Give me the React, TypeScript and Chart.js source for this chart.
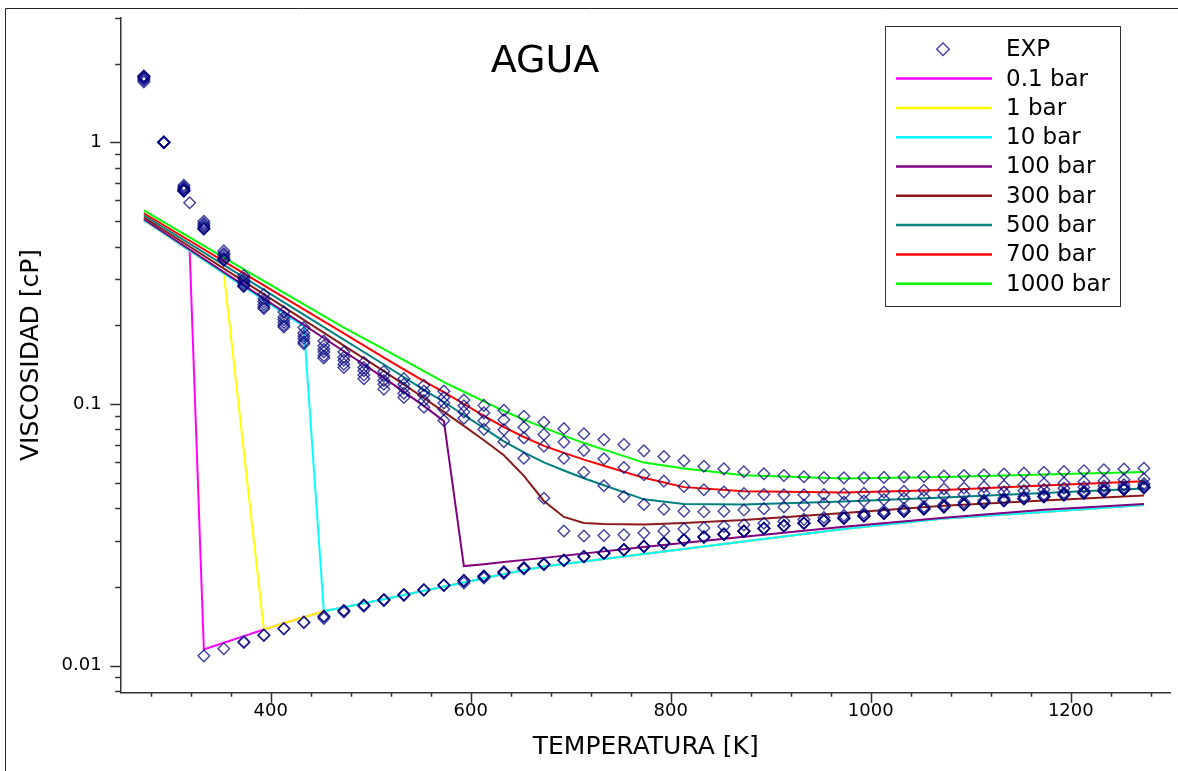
import { useEffect, useRef } from "react";
import { Chart, registerables } from "chart.js";

Chart.register(...registerables);

const FONT = "'DejaVu Sans', 'Noto Sans', sans-serif";

// Temperatures of the measured isobars [K]
const T_K = [
  273.15, 293.15, 313.15, 333.15, 353.15, 373.15, 393.15, 413.15, 433.15, 453.15,
  473.15, 493.15, 513.15, 533.15, 553.15, 573.15, 593.15, 613.15, 633.15, 653.15,
  673.15, 693.15, 713.15, 733.15, 753.15, 773.15, 793.15, 813.15, 833.15, 853.15,
  873.15, 893.15, 913.15, 933.15, 953.15, 973.15, 993.15, 1013.15, 1033.15, 1053.15,
  1073.15, 1093.15, 1113.15, 1133.15, 1153.15, 1173.15, 1193.15, 1213.15, 1233.15, 1253.15,
  1273.15,
];

// Measured viscosity [cP] along each isobar, one value per temperature above
const EXP_0_1_BAR = [
  1.792, 1.002, 0.653, 0.01089, 0.0116, 0.01234, 0.01309, 0.01386, 0.01465, 0.01543,
  0.01624, 0.01705, 0.01786, 0.01868, 0.0195, 0.02033, 0.02115, 0.02198, 0.0228, 0.02363,
  0.02446, 0.02528, 0.0261, 0.02693, 0.02775, 0.02856, 0.02938, 0.03019, 0.031, 0.0318,
  0.03261, 0.0334, 0.0342, 0.03499, 0.03578, 0.03656, 0.03734, 0.03812, 0.03889, 0.03966,
  0.04043, 0.04119, 0.04195, 0.0427, 0.04345, 0.04419, 0.04494, 0.04567, 0.04641, 0.04714,
  0.04786,
];
const EXP_1_BAR = [
  1.792, 1.002, 0.653, 0.467, 0.355, 0.01225, 0.01304, 0.01381, 0.0146, 0.01539,
  0.0162, 0.01701, 0.01783, 0.01865, 0.01947, 0.0203, 0.02112, 0.02195, 0.02278, 0.02361,
  0.02444, 0.02526, 0.02609, 0.02691, 0.02773, 0.02855, 0.02937, 0.03018, 0.03099, 0.03179,
  0.0326, 0.03339, 0.03419, 0.03498, 0.03577, 0.03655, 0.03733, 0.03811, 0.03888, 0.03965,
  0.04042, 0.04118, 0.04194, 0.04269, 0.04344, 0.04418, 0.04493, 0.04566, 0.0464, 0.04713,
  0.04785,
];
const EXP_10_BAR = [
  1.792, 1.002, 0.653, 0.467, 0.355, 0.282, 0.232, 0.197, 0.17, 0.01515,
  0.01602, 0.01687, 0.01771, 0.01855, 0.01939, 0.02023, 0.02107, 0.02191, 0.02274, 0.02357,
  0.02441, 0.02524, 0.02606, 0.02689, 0.02771, 0.02853, 0.02935, 0.03016, 0.03097, 0.03178,
  0.03259, 0.03339, 0.03419, 0.03498, 0.03577, 0.03655, 0.03733, 0.03811, 0.03889, 0.03966,
  0.04043, 0.04119, 0.04195, 0.0427, 0.04345, 0.04419, 0.04494, 0.04567, 0.04641, 0.04714,
  0.04786,
];
const EXP_100_BAR = [
  1.783, 1.002, 0.656, 0.47, 0.358, 0.285, 0.235, 0.2, 0.173, 0.153,
  0.138, 0.125, 0.114, 0.106, 0.0972, 0.0865, 0.0207, 0.0216, 0.0225, 0.0234,
  0.0243, 0.0252, 0.0261, 0.0269, 0.0277, 0.0286, 0.0294, 0.0302, 0.031, 0.0318,
  0.0327, 0.0335, 0.0343, 0.0351, 0.0359, 0.0367, 0.0375, 0.0383, 0.039, 0.0398,
  0.0406, 0.0413, 0.0421, 0.0429, 0.0436, 0.0444, 0.0451, 0.0458, 0.0466, 0.0473,
  0.048,
];
const EXP_300_BAR = [
  1.765, 1.001, 0.663, 0.476, 0.364, 0.29, 0.24, 0.205, 0.178, 0.158,
  0.142, 0.129, 0.119, 0.11, 0.103, 0.0955, 0.0883, 0.08, 0.0718, 0.062,
  0.0436, 0.0327, 0.0313, 0.0314, 0.0316, 0.0321, 0.0327, 0.0333, 0.0336, 0.034,
  0.0345, 0.035, 0.0356, 0.0362, 0.0368, 0.0375, 0.0382, 0.039, 0.0398, 0.0405,
  0.0413, 0.0421, 0.0428, 0.0436, 0.0443, 0.0451, 0.0458, 0.0465, 0.0473, 0.048,
  0.0488,
];
const EXP_500_BAR = [
  1.747, 1.0, 0.669, 0.483, 0.371, 0.296, 0.246, 0.21, 0.182, 0.162,
  0.147, 0.134, 0.123, 0.115, 0.108, 0.101, 0.0933, 0.0862, 0.0798, 0.0742,
  0.069, 0.062, 0.0548, 0.0487, 0.0443, 0.0413, 0.0396, 0.0389, 0.0387, 0.0389,
  0.0393, 0.0398, 0.0404, 0.041, 0.0416, 0.0421, 0.0426, 0.0431, 0.0436, 0.0441,
  0.0446, 0.0451, 0.0456, 0.0461, 0.0466, 0.0471, 0.0476, 0.0481, 0.0486, 0.0491,
  0.0496,
];
const EXP_700_BAR = [
  1.729, 1.0, 0.676, 0.49, 0.376, 0.302, 0.252, 0.215, 0.187, 0.167,
  0.151, 0.138, 0.128, 0.119, 0.112, 0.106, 0.0985, 0.0925, 0.087, 0.0815,
  0.0765, 0.0715, 0.0665, 0.0617, 0.0572, 0.0536, 0.0507, 0.0484, 0.047, 0.0461,
  0.0455, 0.0451, 0.045, 0.045, 0.0451, 0.0453, 0.0456, 0.046, 0.0464, 0.0468,
  0.0473, 0.0477, 0.0482, 0.0486, 0.0491, 0.0495, 0.0499, 0.0504, 0.0508, 0.0513,
  0.0517,
];
const EXP_1000_BAR = [
  1.702, 1.0, 0.686, 0.5, 0.385, 0.31, 0.262, 0.225, 0.196, 0.174,
  0.158, 0.144, 0.133, 0.125, 0.118, 0.112, 0.1036, 0.0988, 0.0947, 0.0898,
  0.0852, 0.0805, 0.077, 0.0731, 0.07, 0.0662, 0.063, 0.0607, 0.0578, 0.0565,
  0.0551, 0.0541, 0.0533, 0.0527, 0.0523, 0.0522, 0.0522, 0.0524, 0.0526, 0.0528,
  0.053, 0.0533, 0.0536, 0.054, 0.0544, 0.0548, 0.0552, 0.0556, 0.056, 0.0564,
  0.0568,
];

// Saturated-liquid points (0.1, 1 and 10 bar)
const SAT_T = [318.96, 372.76, 453.03];
const SAT_V = [0.588, 0.282, 0.15];

// Model predictions [K] / [cP]
const M_T_0_1 = [273.15, 318.96, 333.15, 353.15, 373.15, 393.15, 413.15, 433.15, 453.15, 473.15, 513.15, 553.15, 593.15, 633.15, 673.15, 773.15, 873.15, 973.15, 1073.15, 1173.15, 1273.15];
const M_0_1 = [0.505, 0.385, 0.01152, 0.01222, 0.01296, 0.01374, 0.0145, 0.01529, 0.01613, 0.01671, 0.01794, 0.0193, 0.02077, 0.02237, 0.02393, 0.02672, 0.02982, 0.03327, 0.03648, 0.03867, 0.04109];

const M_T_1 = [273.15, 353.15, 393.15, 413.15, 433.15, 453.15, 473.15, 513.15, 553.15, 593.15, 633.15, 673.15, 773.15, 873.15, 973.15, 1073.15, 1173.15, 1273.15];
const M_1 = [0.505, 0.315, 0.01374, 0.0145, 0.01529, 0.01613, 0.01671, 0.01794, 0.0193, 0.02077, 0.02237, 0.02393, 0.02672, 0.02982, 0.03327, 0.03648, 0.03867, 0.04109];

const M_T_10 = [273.15, 373.15, 433.15, 453.15, 473.15, 513.15, 553.15, 593.15, 633.15, 673.15, 773.15, 873.15, 973.15, 1073.15, 1173.15, 1273.15];
const M_10 = [0.506, 0.2805, 0.1978, 0.01613, 0.01671, 0.01794, 0.0193, 0.02077, 0.02237, 0.02393, 0.02672, 0.02982, 0.03327, 0.03648, 0.03867, 0.04109];

const M_T_100 = [273.15, 373.15, 473.15, 513.15, 553.15, 573.15, 593.15, 613.15, 633.15, 673.15, 773.15, 873.15, 973.15, 1073.15, 1173.15, 1273.15];
const M_100 = [0.5087, 0.2842, 0.1591, 0.1259, 0.0984, 0.086, 0.024, 0.0244, 0.0249, 0.0258, 0.0284, 0.0311, 0.0339, 0.0367, 0.0394, 0.0415];

const M_T_HP = [273.15, 373.15, 473.15, 513.15, 553.15, 573.15, 593.15, 613.15, 633.15, 653.15, 673.15, 693.15, 713.15, 733.15, 773.15, 813.15, 873.15, 973.15, 1073.15, 1173.15, 1273.15];
const M_300 = [0.5178, 0.2943, 0.1672, 0.1336, 0.1054, 0.0933, 0.0825, 0.0727, 0.0637, 0.0531, 0.0426, 0.037, 0.0351, 0.0348, 0.0346, 0.0351, 0.036, 0.0383, 0.0408, 0.0428, 0.0447];
const M_500 = [0.5269, 0.3049, 0.1764, 0.1416, 0.1132, 0.1018, 0.0908, 0.0809, 0.072, 0.0653, 0.0598, 0.0557, 0.052, 0.0489, 0.0432, 0.0415, 0.0413, 0.0424, 0.0439, 0.0457, 0.0475];
const M_700 = [0.5363, 0.3158, 0.1862, 0.1504, 0.1222, 0.111, 0.1, 0.0901, 0.0816, 0.0748, 0.0692, 0.065, 0.0613, 0.0581, 0.0522, 0.0481, 0.0464, 0.0459, 0.0469, 0.0488, 0.0507];
const M_1000 = [0.5497, 0.3271, 0.196, 0.1622, 0.1336, 0.1213, 0.1114, 0.1023, 0.094, 0.0872, 0.0812, 0.0757, 0.0709, 0.0669, 0.0597, 0.0567, 0.0534, 0.0519, 0.0526, 0.0537, 0.055];

// Axis ticks
const X_TICKS = [280, 320, 360, 400, 440, 480, 520, 560, 600, 640, 680, 720, 760, 800, 840, 880, 920, 960, 1000, 1040, 1080, 1120, 1160, 1200, 1240, 1280];
const X_LABELED = [400, 600, 800, 1000, 1200];
const Y_TICKS = [0.008, 0.009, 0.01, 0.02, 0.03, 0.04, 0.05, 0.06, 0.07, 0.08, 0.09, 0.1, 0.2, 0.3, 0.4, 0.5, 0.6, 0.7, 0.8, 0.9, 1, 2, 3];
const Y_LABELED = ["0.01", "0.1", "1"];

const EXP_COLOR = "rgba(0,0,128,0.75)";
const AXIS_COLOR = "#333333";

const MODELS = [
  { label: "0.1 bar", color: "#ff00ff", t: M_T_0_1, v: M_0_1 },
  { label: "1 bar", color: "#ffff00", t: M_T_1, v: M_1 },
  { label: "10 bar", color: "#00ffff", t: M_T_10, v: M_10 },
  { label: "100 bar", color: "#800080", t: M_T_100, v: M_100 },
  { label: "300 bar", color: "#8b1a1a", t: M_T_HP, v: M_300 },
  { label: "500 bar", color: "#008080", t: M_T_HP, v: M_500 },
  { label: "700 bar", color: "#ff0000", t: M_T_HP, v: M_700 },
  { label: "1000 bar", color: "#00ff00", t: M_T_HP, v: M_1000 },
];

const isDecade = (v: number) => Math.abs(Math.log10(v) - Math.round(Math.log10(v))) < 1e-6;

// White page background and the frame round the figure
const framePlugin = {
  id: "frame",
  beforeDraw(chart: Chart) {
    const { ctx, width, height } = chart;
    ctx.save();
    ctx.fillStyle = "#ffffff";
    ctx.fillRect(0, 0, width, height);
    ctx.strokeStyle = "#222222";
    ctx.lineWidth = 1;
    ctx.beginPath();
    ctx.moveTo(5.5, height);
    ctx.lineTo(5.5, 8.5);
    ctx.lineTo(width, 8.5);
    ctx.stroke();
    ctx.restore();
  },
};

// Outward tick marks: long on labelled values, short elsewhere
const tickMarksPlugin = {
  id: "tickMarks",
  afterDraw(chart: Chart) {
    const { ctx, chartArea } = chart;
    const xs: any = chart.scales.x;
    const ys: any = chart.scales.y;
    ctx.save();
    ctx.strokeStyle = AXIS_COLOR;
    ctx.lineWidth = 1.5;
    ctx.beginPath();
    xs.ticks.forEach((t: any) => {
      const px = Math.round(xs.getPixelForValue(t.value)) + 0.5;
      const len = X_LABELED.includes(t.value) ? 10.5 : 4.5;
      ctx.moveTo(px, chartArea.bottom);
      ctx.lineTo(px, chartArea.bottom + len);
    });
    ys.ticks.forEach((t: any) => {
      const py = Math.round(ys.getPixelForValue(t.value)) + 0.5;
      const len = isDecade(t.value) ? 10.5 : 5.5;
      ctx.moveTo(chartArea.left, py);
      ctx.lineTo(chartArea.left - len, py);
    });
    ctx.stroke();
    ctx.restore();
  },
};

// Title inside the plotting area
const innerTitlePlugin = {
  id: "innerTitle",
  afterDraw(chart: Chart) {
    const { ctx } = chart;
    ctx.save();
    ctx.font = `38px ${FONT}`;
    ctx.fillStyle = "#000000";
    ctx.textAlign = "center";
    ctx.textBaseline = "middle";
    ctx.fillText("AGUA", 545, 62);
    ctx.restore();
  },
};

// Boxed legend in the upper-right corner
const boxLegendPlugin = {
  id: "boxLegend",
  afterDraw(chart: Chart) {
    const { ctx } = chart;
    const left = 885.5;
    const top = 26.5;
    const w = 235;
    const h = 280;
    const row0 = 49.3;
    const dy = 29.3;
    const lineX0 = 896;
    const lineX1 = 992;
    const textX = 1006;
    ctx.save();
    ctx.fillStyle = "#ffffff";
    ctx.fillRect(left, top, w, h);
    ctx.strokeStyle = "#333333";
    ctx.lineWidth = 1;
    ctx.strokeRect(left, top, w, h);
    ctx.font = `23px ${FONT}`;
    ctx.fillStyle = "#000000";
    ctx.textAlign = "left";
    ctx.textBaseline = "middle";
    chart.data.datasets.forEach((ds: any, i: number) => {
      const y = row0 + dy * i;
      if (i === 0) {
        const cx = 943;
        const r = 6.3;
        ctx.strokeStyle = EXP_COLOR;
        ctx.lineWidth = 1.4;
        ctx.beginPath();
        ctx.moveTo(cx - r, y);
        ctx.lineTo(cx, y - r);
        ctx.lineTo(cx + r, y);
        ctx.lineTo(cx, y + r);
        ctx.closePath();
        ctx.stroke();
      } else {
        ctx.strokeStyle = ds.borderColor;
        ctx.lineWidth = 2.5;
        ctx.beginPath();
        ctx.moveTo(lineX0, y);
        ctx.lineTo(lineX1, y);
        ctx.stroke();
      }
      ctx.fillStyle = "#000000";
      ctx.fillText(ds.label, textX, y + 1);
    });
    ctx.restore();
  },
};

export default function App() {
  const canvasRef = useRef<HTMLCanvasElement>(null);

  useEffect(() => {
    const canvas = canvasRef.current;
    if (!canvas) return;
    Chart.defaults.font.family = FONT;

    const isobars = [EXP_0_1_BAR, EXP_1_BAR, EXP_10_BAR, EXP_100_BAR, EXP_300_BAR, EXP_500_BAR, EXP_700_BAR, EXP_1000_BAR];
    const expPoints = isobars
      .flatMap((vals) => vals.map((v, i) => ({ x: T_K[i], y: v })))
      .concat(SAT_T.map((t, i) => ({ x: t, y: SAT_V[i] })));

    const datasets: any[] = [
      {
        label: "EXP",
        data: expPoints,
        showLine: false,
        pointStyle: "rectRot",
        pointRadius: 5.8,
        pointBorderWidth: 1.4,
        pointBorderColor: EXP_COLOR,
        pointBackgroundColor: "rgba(0,0,0,0)",
        borderColor: EXP_COLOR,
        backgroundColor: "rgba(0,0,0,0)",
        order: 0,
      },
      ...MODELS.map((m, k) => ({
        label: m.label,
        data: m.t.map((t, i) => ({ x: t, y: m.v[i] })),
        showLine: true,
        borderColor: m.color,
        backgroundColor: m.color,
        borderWidth: 2,
        pointRadius: 0,
        tension: 0,
        order: MODELS.length - k,
      })),
    ];

    const chart = new Chart(canvas, {
      type: "scatter",
      data: { datasets },
      options: {
        responsive: false,
        animation: false,
        devicePixelRatio: 1,
        layout: { padding: { top: 17.7, right: 3, left: 0, bottom: 0 } },
        plugins: {
          legend: { display: false },
          tooltip: { enabled: false },
        },
        scales: {
          x: {
            type: "linear",
            min: 250,
            max: 1300,
            afterBuildTicks: (s: any) => {
              s.ticks = X_TICKS.map((v) => ({ value: v }));
            },
            afterFit: (s: any) => {
              s.height = 78.7;
              s.paddingLeft = 0;
              s.paddingRight = 0;
              s.paddingTop = 0;
              s.paddingBottom = 0;
            },
            ticks: {
              autoSkip: false,
              maxRotation: 0,
              padding: 8,
              color: "#000000",
              font: { size: 18, family: FONT },
              callback: (v: any) => (X_LABELED.includes(Number(v)) ? String(v) : ""),
            },
            grid: { display: false, drawTicks: false },
            border: { display: true, color: AXIS_COLOR, width: 1.5 },
            title: {
              display: true,
              text: "TEMPERATURA [K]",
              color: "#000000",
              font: { size: 25, family: FONT },
              padding: { top: 0, bottom: 9 },
            },
          },
          y: {
            type: "logarithmic",
            min: 0.0079,
            max: 3,
            afterBuildTicks: (s: any) => {
              s.ticks = Y_TICKS.map((v) => ({ value: v }));
            },
            afterFit: (s: any) => {
              s.width = 120.7;
              s.paddingLeft = 0;
              s.paddingRight = 0;
              s.paddingTop = 0;
              s.paddingBottom = 0;
            },
            ticks: {
              autoSkip: false,
              padding: 19,
              color: "#000000",
              font: { size: 18, family: FONT },
              callback: (v: any) => {
                const n = Number(v);
                if (!isDecade(n)) return "";
                const label = String(Number(n.toPrecision(3)));
                return Y_LABELED.includes(label) ? label : "";
              },
            },
            grid: { display: false, drawTicks: false },
            border: { display: true, color: AXIS_COLOR, width: 1.5 },
            title: {
              display: true,
              text: "VISCOSIDAD [cP]",
              color: "#000000",
              font: { size: 25, family: FONT },
              padding: { top: 16, bottom: 0 },
            },
          },
        },
      } as any,
      plugins: [framePlugin, tickMarksPlugin, innerTitlePlugin, boxLegendPlugin],
    });

    return () => chart.destroy();
  }, []);

  return (
    <div style={{ position: "fixed", left: 0, top: 0, width: 1178, height: 771, background: "#ffffff" }}>
      <canvas ref={canvasRef} width={1178} height={771} style={{ display: "block", width: 1178, height: 771 }} />
    </div>
  );
}
